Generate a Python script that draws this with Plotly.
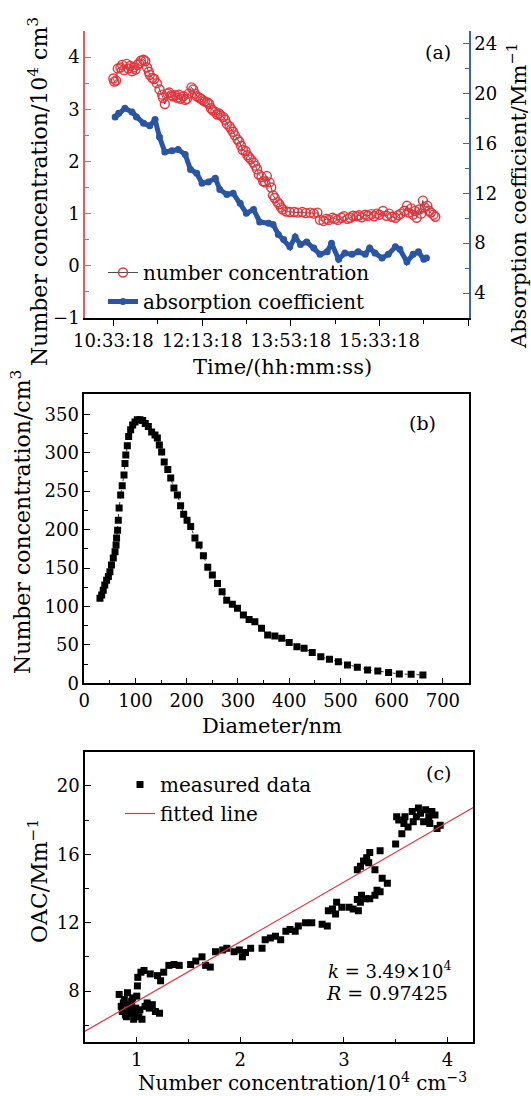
import plotly.graph_objects as go

# ---------------- Panel (a): time series ----------------
# time in minutes after 10:33:18
nc_time = [0, 1, 3, 5, 8, 10, 12, 15, 17, 19, 21, 23, 25, 27, 29, 31, 34, 36, 38, 40, 41, 44, 46, 49,
           52, 55, 56, 58, 61, 63, 65, 67, 70, 72, 74, 76, 79, 81, 83, 85, 88, 90, 92, 94, 97, 99,
           101, 103, 106, 108, 110, 112, 115, 117, 119, 121, 124, 126, 128, 131, 133, 135, 137, 140,
           142, 144, 146, 149, 151, 153, 155, 158, 160, 162, 164, 167, 169, 171, 173, 176, 178, 180,
           182, 185, 187, 189, 191, 195, 199, 204, 208, 213, 217, 222, 226, 230, 233, 237, 240, 243,
           247, 250, 253, 257, 260, 264, 267, 270, 274, 277, 280, 284, 287, 291, 294, 297, 300, 304,
           308, 311, 314, 318, 321, 324, 328, 331, 333, 336, 338, 340, 342, 345, 347, 349, 351, 354,
           356, 358, 361, 363]
nc_value = [3.59, 3.53, 3.55, 3.78, 3.80, 3.85, 3.75, 3.87, 3.78, 3.83, 3.73, 3.80, 3.76, 3.85, 3.88,
            3.93, 3.95, 3.92, 3.80, 3.72, 3.66, 3.60, 3.58, 3.50, 3.38, 3.28, 3.22, 3.10, 3.30, 3.32,
            3.27, 3.25, 3.27, 3.22, 3.28, 3.20, 3.25, 3.18, 3.20, 3.30, 3.42, 3.38, 3.30, 3.25, 3.22,
            3.20, 3.17, 3.15, 3.13, 3.10, 3.02, 2.98, 2.95, 2.90, 2.92, 2.88, 2.85, 2.80, 2.72, 2.67,
            2.62, 2.57, 2.50, 2.42, 2.38, 2.30, 2.22, 2.20, 2.12, 2.08, 2.04, 1.98, 1.92, 1.85, 1.75,
            1.70, 1.62, 1.60, 1.72, 1.60, 1.50, 1.35, 1.30, 1.22, 1.18, 1.12, 1.08, 1.04, 1.03, 1.03,
            1.02, 1.03, 1.01, 1.02, 1.00, 1.02, 0.88, 0.86, 0.90, 0.88, 0.92, 0.90, 0.88, 0.92, 0.95,
            0.90, 0.92, 0.96, 0.95, 0.97, 0.93, 0.98, 0.96, 0.99, 0.95, 1.00, 0.98, 1.05, 0.96, 1.00,
            0.94, 0.92, 0.97, 1.00, 1.05, 1.15, 1.02, 1.10, 0.98, 1.05, 0.92, 1.08, 1.00, 1.25, 1.12,
            1.15, 1.05, 1.02, 0.98, 0.94]

ac_time = [2, 6, 13, 21, 26, 34, 41, 47, 52, 58, 66, 73, 81, 87, 94, 100, 107, 115, 120, 128, 135,
           143, 150, 158, 165, 175, 180, 186, 192, 199, 205, 211, 218, 226, 233, 241, 246, 254, 261,
           269, 276, 284, 289, 295, 303, 310, 318, 323, 331, 338, 344, 350, 353]
ac_value = [18.1, 18.4, 18.8, 18.5, 18.1, 17.6, 17.4, 17.9, 16.5, 15.3, 15.4, 15.5, 15.1, 13.9, 13.6,
            12.8, 12.9, 13.2, 12.3, 11.9, 12.0, 11.2, 10.4, 10.7, 9.7, 9.6, 9.5, 8.7, 8.3, 7.7, 8.5,
            7.9, 8.1, 7.6, 7.1, 7.3, 8.0, 6.7, 7.2, 7.1, 7.3, 7.1, 7.6, 7.2, 6.8, 7.1, 7.7, 7.5, 6.5,
            7.1, 7.3, 6.7, 6.8]

time_tickvals = [0, 100, 200, 300, 400]
time_ticktext = ["10:33:18", "12:13:18", "13:53:18", "15:33:18", ""]

# ---------------- Panel (b): size distribution ----------------
diameter = [30.6, 33.9, 37, 40, 43.6, 47, 50, 53, 56.6, 60, 62, 63, 65, 66.4, 68, 71, 74, 77.5, 79.4,
            81, 84, 86.6, 90.5, 94.4, 99, 103.5, 108.7, 114, 119, 125, 131.5, 138, 142.6, 146.5, 151,
            156, 163, 168.7, 175, 181.7, 188, 194, 200.6, 207.7, 216, 224, 232.5, 241, 250, 260, 269,
            278, 289, 299, 310.6, 321.7, 333, 346, 358, 372, 385.5, 400, 415, 429, 445, 461.7, 478.6,
            496, 513.8, 533, 553, 573, 594, 615, 638, 661]
size_conc = [110.6, 114.9, 121, 128, 134, 139, 145, 154, 163, 171, 180, 189, 199, 212, 228, 245, 257,
             271, 286, 297, 309, 321, 330, 336, 340, 343, 343, 342, 338, 334, 327, 323, 319, 310, 301,
             288, 278, 267, 254, 245, 231, 220, 212, 204, 189, 180, 166, 151, 141, 130, 119, 108, 103,
             97.6, 89, 83, 80, 71.6, 63, 61.6, 58.5, 53, 47.7, 45.5, 40, 34.7, 31.2, 28, 23.9, 20.8,
             17.3, 16, 13.9, 12.1, 11.7, 10.8]

# ---------------- Panel (c): OAC vs number concentration ----------------
meas_nc = [0.83, 0.85, 0.86, 0.88, 0.89, 0.91, 0.93, 0.94, 0.96, 0.97, 0.99, 1.006, 1.01, 1.02, 1.04,
           1.05, 1.07, 1.10, 1.13, 1.15, 1.18, 1.20, 1.22, 1.23, 1.26, 1.31, 1.36, 1.41, 1.52, 1.57,
           1.63, 1.665, 1.71, 1.76, 1.83, 1.87, 1.94, 1.99, 2.02, 2.05, 2.10, 2.21, 2.24, 2.29, 2.34,
           2.39, 2.44, 2.48, 2.53, 2.56, 2.63, 2.69, 2.79, 2.84, 2.85, 2.89, 2.92, 2.93, 2.98, 3.05,
           3.09, 3.14, 3.16, 3.13, 3.17, 3.21, 3.25, 3.30, 3.32, 3.35, 3.37, 3.42, 3.13, 3.16, 3.19,
           3.22, 3.25, 3.24, 3.30, 3.35, 3.50, 3.51, 3.53, 3.56, 3.58, 3.59, 3.62, 3.66, 3.67, 3.70,
           3.72, 3.74, 3.77, 3.79, 3.82, 3.83, 3.85, 3.88, 3.90, 3.93,
           0.87, 0.92, 0.95, 0.98, 1.00, 1.03, 0.90, 0.96, 1.08, 1.12]
meas_oac = [7.8, 7.1, 6.8, 7.5, 6.6, 7.9, 7.2, 6.7, 7.6, 6.35, 7.0, 8.3, 8.8, 6.5, 9.1, 6.35, 9.2,
            7.3, 9.0, 7.2, 6.8, 8.9, 6.7, 8.6, 9.1, 9.5, 9.55, 9.5, 9.55, 9.75, 10.0, 9.5, 9.4, 10.3,
            10.4, 10.5, 10.3, 10.4, 10.0, 10.25, 10.5, 10.5, 11.0, 11.1, 11.2, 11.0, 11.5, 11.6, 11.5,
            11.8, 12.0, 12.0, 11.9, 11.8, 12.7, 12.8, 12.5, 13.2, 12.9, 12.9, 12.8, 12.7, 13.2, 13.35,
            13.6, 13.4, 13.4, 13.6, 13.9, 13.8, 14.6, 14.3, 15.1, 15.3, 15.6, 15.8, 16.1, 15.5, 15.1,
            16.2, 16.6, 18.2, 18.0, 17.2, 17.8, 18.2, 17.6, 18.5, 17.9, 18.2, 18.7, 18.4, 17.9, 18.6,
            18.2, 17.8, 18.5, 18.3, 17.5, 17.7,
            7.3, 6.9, 7.4, 6.6, 7.7, 6.9, 6.5, 6.9, 7.1, 7.0]

fit_slope = 3.49
fit_intercept = 3.9
fit_x = [0.5, 4.25]
fit_y = [fit_slope * v + fit_intercept for v in fit_x]

RED = "#e8323a"
BLUE = "#2a55a4"
FONT = "DejaVu Serif"
TICKF = dict(family=FONT, size=18, color="black")

fig = go.Figure()

fig.add_trace(go.Scatter(
    x=nc_time, y=nc_value, mode="lines+markers", name="number concentration",
    line=dict(color="#222222", width=0.8),
    marker=dict(symbol="circle-open", size=9, color=RED, line=dict(color=RED, width=1.4)),
    xaxis="x", yaxis="y", legend="legend"))
fig.add_trace(go.Scatter(
    x=ac_time, y=ac_value, mode="lines+markers", name="absorption coefficient",
    line=dict(color=BLUE, width=5),
    marker=dict(symbol="circle", size=7, color=BLUE),
    xaxis="x", yaxis="y2", legend="legend"))

fig.add_trace(go.Scatter(
    x=diameter, y=size_conc, mode="lines+markers", showlegend=False,
    line=dict(color="black", width=0.8, dash="dot"),
    marker=dict(symbol="square", size=7, color="black"),
    xaxis="x2", yaxis="y3"))

fig.add_trace(go.Scatter(
    x=meas_nc, y=meas_oac, mode="markers", name="measured data",
    marker=dict(symbol="square", size=7, color="black"),
    xaxis="x3", yaxis="y4", legend="legend2"))
fig.add_trace(go.Scatter(
    x=fit_x, y=fit_y, mode="lines", name="fitted line",
    line=dict(color=RED, width=1.2),
    xaxis="x3", yaxis="y4", legend="legend2"))

W, H = 531, 1096
def px_x(v):
    return v / W
def px_y(v):
    return 1 - v / H

dom_a_x = [px_x(85), px_x(469)]
dom_a_y = [px_y(318), px_y(31)]
dom_b_x = [px_x(84.3), px_x(469)]
dom_b_y = [px_y(683.3), px_y(394.3)]
dom_c_x = [px_x(85), px_x(473.3)]
dom_c_y = [px_y(1042.3), px_y(751.7)]

common = dict(showgrid=False, zeroline=False, showline=True, linewidth=1.5,
              tickfont=TICKF, automargin=False, tickangle=0)

fig.update_layout(
    template="none",
    width=W, height=H, autosize=False,
    margin=dict(l=0, r=0, t=0, b=0, pad=0),
    paper_bgcolor="white", plot_bgcolor="white",
    font=dict(family=FONT, size=18, color="black"),
    xaxis=dict(domain=dom_a_x, anchor="y", range=[-32, 401], tickmode="array",
               tickvals=time_tickvals, ticktext=time_ticktext, ticks="outside", ticklen=6,
               tickcolor="black",
               minor=dict(tickmode="array", tickvals=[50, 150, 250, 350], ticks="outside",
                          ticklen=4, tickcolor="black"),
               linecolor="black", **common),
    xaxis4=dict(overlaying="x", side="top", anchor="y", range=[-32, 401], tickmode="linear",
                tick0=0, dtick=40, ticks="inside", ticklen=3, showticklabels=False,
                tickcolor="black", linecolor="black", **common),
    yaxis=dict(domain=dom_a_y, anchor="x", range=[-1, 4.5], tickmode="linear", tick0=0, dtick=1,
               ticks="inside", ticklen=6, tickcolor="#ee5a5a",
               minor=dict(dtick=0.5, ticks="inside", ticklen=4, tickcolor="#ee5a5a"),
               linecolor="#ee5a5a", **common),
    yaxis2=dict(overlaying="y", side="right", anchor="x", range=[2, 25], tickmode="linear",
                tick0=0, dtick=4, ticks="inside", ticklen=6, tickcolor="#3a64b4",
                minor=dict(dtick=2, ticks="inside", ticklen=4, tickcolor="#3a64b4"),
                linecolor="#3a64b4", **common),
    xaxis2=dict(domain=dom_b_x, anchor="y3", range=[0, 751], tickmode="linear", tick0=0, dtick=100,
                ticks="inside", ticklen=6, tickcolor="black",
                minor=dict(dtick=50, ticks="inside", ticklen=4, tickcolor="black"),
                linecolor="black", mirror=True, **common),
    yaxis3=dict(domain=dom_b_y, anchor="x2", range=[0, 376], tickmode="linear", tick0=0, dtick=50,
                ticks="inside", ticklen=6, tickcolor="black",
                minor=dict(dtick=25, ticks="inside", ticklen=4, tickcolor="black"),
                linecolor="black", mirror=True, **common),
    xaxis3=dict(domain=dom_c_x, anchor="y4", range=[0.5, 4.25], tickmode="linear", tick0=0, dtick=1,
                ticks="inside", ticklen=6, tickcolor="black",
                minor=dict(dtick=0.5, ticks="inside", ticklen=4, tickcolor="black"),
                linecolor="black", mirror=True, **common),
    yaxis4=dict(domain=dom_c_y, anchor="x3", range=[5, 22], tickmode="linear", tick0=0, dtick=4,
                ticks="inside", ticklen=6, tickcolor="black",
                minor=dict(dtick=2, ticks="inside", ticklen=4, tickcolor="black"),
                linecolor="black", mirror=True, **common),
    legend=dict(x=px_x(103), y=px_y(253), xanchor="left", yanchor="top",
                bgcolor="rgba(0,0,0,0)", font=dict(family=FONT, size=20, color="black"),
                tracegroupgap=0, itemwidth=30),
    legend2=dict(x=px_x(120), y=px_y(765), xanchor="left", yanchor="top",
                 bgcolor="rgba(0,0,0,0)", font=dict(family=FONT, size=20, color="black"),
                 tracegroupgap=0, itemwidth=30),
)

ann_font = dict(family=FONT, size=19, color="black")
hfont = dict(family=FONT, size=21, color="black")
vfont = dict(family=FONT, size=22, color="black")
C = dict(xref="paper", yref="paper", showarrow=False, xanchor="center", yanchor="middle")
annotations = [
    dict(text="(a)", x=px_x(438), y=px_y(52), font=ann_font, **C),
    dict(text="(b)", x=px_x(422), y=px_y(423), font=ann_font, **C),
    dict(text="(c)", x=px_x(438), y=px_y(773), font=ann_font, **C),
    dict(text="Number concentration/10<sup>4</sup> cm<sup>3</sup>", x=px_x(38), y=px_y(192),
         textangle=-90, font=vfont, **C),
    dict(text="Absorption coefficient/Mm<sup>−1</sup>", x=px_x(517), y=px_y(196),
         textangle=-90, font=dict(family=FONT, size=21, color="black"), **C),
    dict(text="Time/(hh:mm:ss)", x=px_x(282), y=px_y(367), font=hfont, **C),
    dict(text="Number concentration/cm<sup>3</sup>", x=px_x(21), y=px_y(522),
         textangle=-90, font=vfont, **C),
    dict(text="Diameter/nm", x=px_x(272), y=px_y(726), font=hfont, **C),
    dict(text="OAC/Mm<sup>−1</sup>", x=px_x(38), y=px_y(881), textangle=-90, font=vfont, **C),
    dict(text="Number concentration/10<sup>4</sup> cm<sup>−3</sup>", x=px_x(302), y=px_y(1082),
         font=dict(family=FONT, size=20, color="black"), **C),
]
annotations += [
    dict(text="<i>k</i> = 3.49×10<sup>4</sup>", x=px_x(326), y=px_y(970), xref="paper", yref="paper",
         showarrow=False, xanchor="left", yanchor="middle",
         font=dict(family=FONT, size=18, color="black")),
    dict(text="<i>R</i> = 0.97425", x=px_x(324), y=px_y(993), xref="paper", yref="paper",
         showarrow=False, xanchor="left", yanchor="middle", font=ann_font),
]
fig.update_layout(annotations=annotations)

fig.write_html("out.html", config={"displayModeBar": False},
               post_script="document.body.style.margin='0px';")
